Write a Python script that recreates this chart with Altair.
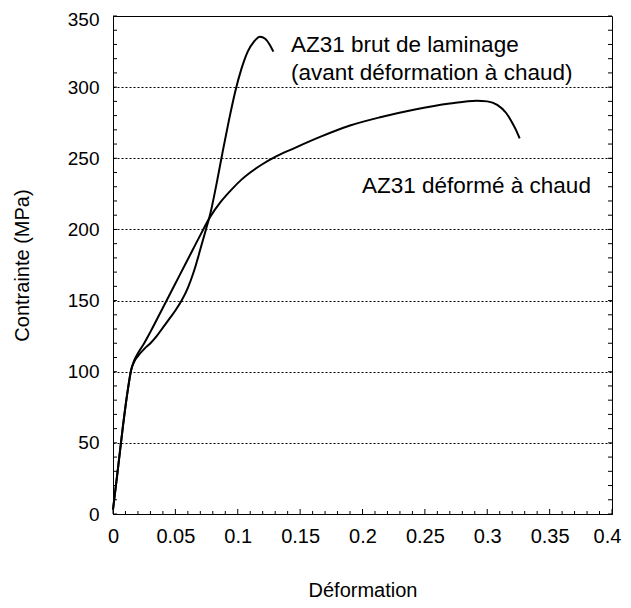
import altair as alt
import pandas as pd

# Curve: AZ31 brut de laminage (avant déformation à chaud)
brut_x = [0, 0.004, 0.008, 0.012, 0.0145, 0.017, 0.02, 0.025, 0.03, 0.035, 0.04, 0.045,
          0.05, 0.055, 0.06, 0.065, 0.07, 0.0745, 0.078, 0.083, 0.088, 0.093, 0.098,
          0.103, 0.108, 0.113, 0.1178, 0.122, 0.1255, 0.1285]
brut_y = [3, 32, 62, 88, 101, 107, 111, 116, 120, 125, 131, 137,
          143, 150, 159, 171, 186, 200, 211, 232, 255, 277, 297,
          313, 325, 332, 335.5, 334, 330, 325]

# Curve: AZ31 déformé à chaud
def_x = [0, 0.004, 0.008, 0.012, 0.0145, 0.017, 0.02, 0.025, 0.03, 0.04, 0.05, 0.06,
         0.07, 0.078, 0.086, 0.095, 0.103, 0.11, 0.12, 0.13, 0.145, 0.166, 0.19, 0.215,
         0.243, 0.27, 0.2915, 0.30, 0.308, 0.315, 0.32, 0.323, 0.326]
def_y = [3, 32, 62, 88, 101, 108, 113, 120, 128, 145, 162, 179,
         196, 209, 219, 228, 235, 240, 246, 251, 257, 265, 273, 279,
         284.5, 288.5, 290.5, 290, 287.5, 282, 275, 270, 264]

# Annotations
ann_text = ["AZ31 brut de laminage", "(avant déformation à chaud)", "AZ31 déformé à chaud"]
ann_x = [0.1427, 0.1427, 0.1996]
ann_y = [329.6, 309.9, 230.5]

# Axis tick values
x_ticks = [0, 0.05, 0.1, 0.15, 0.2, 0.25, 0.3, 0.35, 0.4]
y_ticks = [0, 50, 100, 150, 200, 250, 300, 350]
x_minor = [i / 100 for i in range(0, 41)]
y_minor = list(range(0, 351, 10))

W, H = 499, 498
FONT = "Liberation Sans"

curves = pd.concat([
    pd.DataFrame({"x": brut_x, "y": brut_y, "s": "brut"}),
    pd.DataFrame({"x": def_x, "y": def_y, "s": "deforme"}),
])

xs = alt.Scale(domain=[0, 0.4], nice=False, zero=False)
ys = alt.Scale(domain=[0, 350], nice=False, zero=False)

x_axis = alt.Axis(
    values=x_ticks, format="~g", title="Déformation", tickSize=0,
    labelPadding=12, titlePadding=34, labelFontSize=20, titleFontSize=20,
    titleFontWeight="normal", labelFont=FONT, titleFont=FONT,
    labelColor="black", titleColor="black", domainColor="black", grid=False,
    labelFlush=False,
    labelOffset={"condition": {"test": "datum.value >= 0.39", "value": -5}, "value": 0})
y_axis = alt.Axis(
    values=y_ticks, title="Contrainte (MPa)", tickSize=0,
    labelPadding=14, titlePadding=35, labelFontSize=19, titleFontSize=20,
    titleFontWeight="normal", labelFont=FONT, titleFont=FONT,
    labelColor="black", titleColor="black", domainColor="black",
    grid=True, gridColor="black", gridDash=[2, 2], gridWidth=1,
    labelFlush=False,
    labelOffset={"condition": {"test": "datum.value >= 349", "value": 3}, "value": 0})

lines = alt.Chart(curves).mark_line(
    color="black", strokeWidth=2, interpolate="monotone"
).encode(
    x=alt.X("x:Q", scale=xs, axis=x_axis),
    y=alt.Y("y:Q", scale=ys, axis=y_axis),
    detail="s:N",
)

ydf = pd.DataFrame({"y": y_minor})
xdf = pd.DataFrame({"x": x_minor,
                    "top": [H - 5 if round(v * 100) % 5 == 0 else H - 3 for v in x_minor]})

left_ticks = alt.Chart(ydf).mark_rule(color="black", strokeWidth=1).encode(
    y=alt.Y("y:Q", scale=ys, axis=y_axis), x=alt.value(0), x2=alt.value(4))
right_ticks = alt.Chart(ydf).mark_rule(color="black", strokeWidth=1).encode(
    y=alt.Y("y:Q", scale=ys, axis=y_axis), x=alt.value(W - 4), x2=alt.value(W))
bottom_ticks = alt.Chart(xdf).mark_rule(color="black", strokeWidth=1).encode(
    x=alt.X("x:Q", scale=xs, axis=x_axis),
    y=alt.Y("top:Q", scale=None), y2=alt.value(H))

ann = alt.Chart(pd.DataFrame({"t": ann_text, "x": ann_x, "y": ann_y})).mark_text(
    align="left", baseline="middle", fontSize=22.5, font=FONT, color="black"
).encode(x=alt.X("x:Q", scale=xs, axis=x_axis), y=alt.Y("y:Q", scale=ys, axis=y_axis),
         text="t:N")

chart = alt.layer(lines, left_ticks, right_ticks, bottom_ticks, ann).properties(
    width=W, height=H,
    padding={"left": 105, "top": 8, "right": 10, "bottom": 86},
    autosize="none",
    background="white",
).configure_view(stroke="black", strokeWidth=1)

chart.save("out.html", embed_options={"renderer": "svg", "actions": False})
